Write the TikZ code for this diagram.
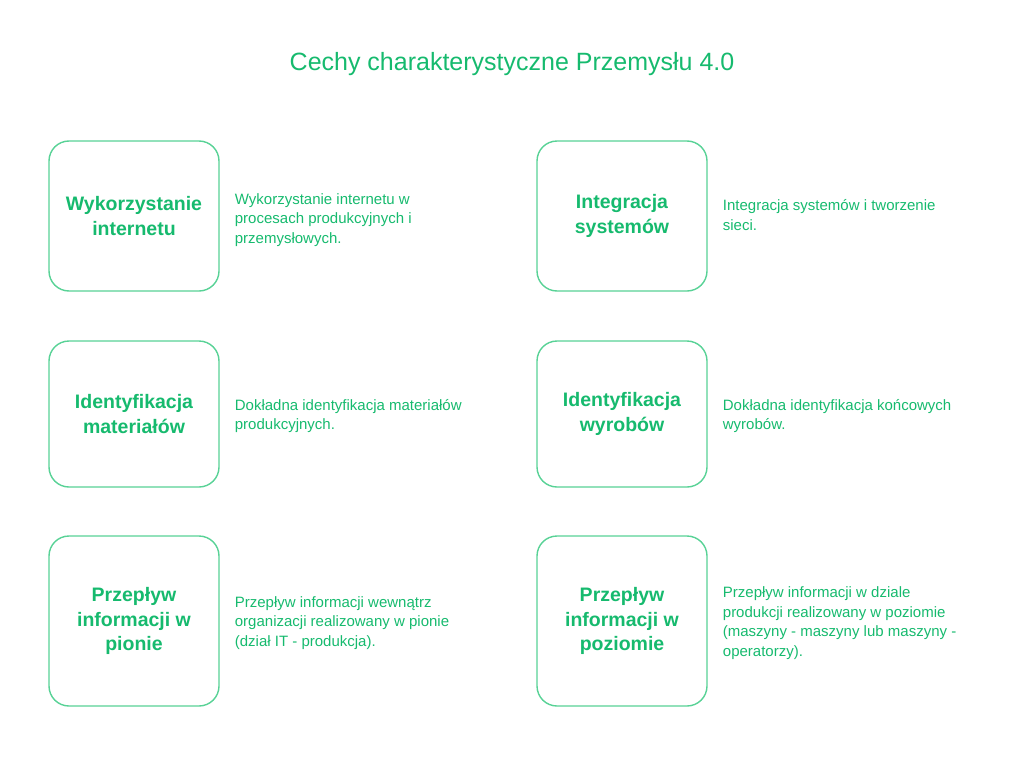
\documentclass[tikz,border=0pt]{standalone}
\usepackage{fontspec}
\setmainfont{Liberation Sans}
\usepackage{tikz}
\usetikzlibrary{positioning}
\definecolor{leaf}{RGB}{22, 186, 110}
\definecolor{leafline}{RGB}{88, 210, 150}

\begin{document}
\begin{tikzpicture}[
    x=1pt, y=-1pt,
    node distance=14pt,
    feature/.style={draw=leafline, line width=1.4pt, rounded corners=20pt, fill=white, minimum width=170pt, minimum height=150pt, align=center, text=leaf, font=\fontsize{19.5}{24.5}\selectfont\bfseries},
    desc/.style={anchor=west, align=left, text=leaf, font=\fontsize{15}{19.5}\selectfont, inner sep=0pt}
]
    \useasboundingbox (0,0) rectangle (1024,768);

    \node[text=leaf, font=\fontsize{25}{29}\selectfont] (title) at (512,64) {Cechy charakterystyczne Przemysłu 4.0};

    \node[feature] (internet) at (134,216) {Wykorzystanie\\internetu};
    \node[feature] (systemy) at (622,216) {Integracja\\systemów};
    \node[feature, minimum height=146pt] (materialy) at (134,414) {Identyfikacja\\materiałów};
    \node[feature, minimum height=146pt] (wyroby) at (622,414) {Identyfikacja\\wyrobów};
    \node[feature, minimum height=170pt] (pion) at (134,621) {Przepływ\\informacji w\\pionie};
    \node[feature, minimum height=170pt] (poziom) at (622,621) {Przepływ\\informacji w\\poziomie};

    \node[desc, right=15pt of internet.east, anchor=west, yshift=-4pt] (internetdesc) {Wykorzystanie internetu w\\procesach produkcyjnych i\\przemysłowych.};
    \node[desc, right=15pt of systemy.east, anchor=west, yshift=1pt] (systemydesc) {Integracja systemów i tworzenie\\sieci.};
    \node[desc, right=15pt of materialy.east, anchor=west, yshift=-2pt] (materialydesc) {Dokładna identyfikacja materiałów\\produkcyjnych.};
    \node[desc, right=15pt of wyroby.east, anchor=west, yshift=-2pt] (wyrobydesc) {Dokładna identyfikacja końcowych\\wyrobów.};
    \node[desc, right=15pt of pion.east, anchor=west, yshift=-2pt] (piondesc) {Przepływ informacji wewnątrz\\organizacji realizowany w pionie\\(dział IT - produkcja).};
    \node[desc, right=15pt of poziom.east, anchor=west, yshift=-2pt] (poziomdesc) {Przepływ informacji w dziale\\produkcji realizowany w poziomie\\(maszyny - maszyny lub maszyny -\\operatorzy).};
\end{tikzpicture}
\end{document}
